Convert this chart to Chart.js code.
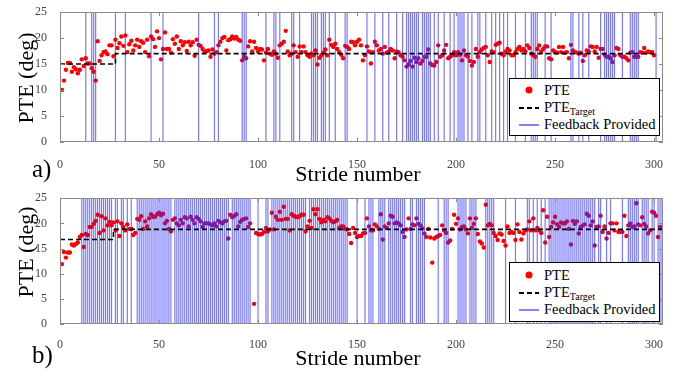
<!DOCTYPE html>
<html>
<head>
<meta charset="utf-8">
<script src="https://cdn.jsdelivr.net/npm/chart.js@4.4.0/dist/chart.umd.min.js"></script>
<style>
  body { margin: 0; background: #fff; }
  #wrap { position: relative; width: 686px; height: 372px; font-family: "Liberation Serif", "Times New Roman", serif; }
  #wrap canvas { position: absolute; left: 0; }
  .lbl { position: absolute; white-space: nowrap; color: #000; line-height: 1; }
  .ylab { font-size: 22px; transform: translate(-50%, -50%) rotate(-90deg); }
  .legend { position: absolute; background: #fff; border: 1.5px solid #000; box-sizing: border-box; font-size: 14.5px; }
  .legend .row { position: absolute; left: 0; height: 16px; line-height: 16px; width: 100%; white-space: nowrap; }
  .legend .row svg { position: absolute; left: 8px; top: 0; }
  .legend .row span { position: absolute; left: 34px; white-space: nowrap; }
  .legend sub { font-size: 10px; vertical-align: -3px; line-height: 0; }
</style>
</head>
<body>
<div id="wrap">
  <canvas id="chartA" width="686" height="186" style="top:0"></canvas>
  <canvas id="chartB" width="686" height="186" style="top:186px"></canvas>

  <div class="lbl ylab" style="left:26px; top:78px">PTE (deg)</div>
  <div class="lbl ylab" style="left:26px; top:252px">PTE (deg)</div>
  <div class="lbl" style="font-size:22px; left:358px; top:163px; transform:translateX(-50%)">Stride number</div>
  <div class="lbl" style="font-size:22px; left:358px; top:347px; transform:translateX(-50%)">Stride number</div>
  <div class="lbl" style="font-size:25px; left:32px; top:156px">a)</div>
  <div class="lbl" style="font-size:25px; left:32px; top:342px">b)</div>

  <div class="legend" style="left:509px; top:78px; width:151px; height:58px">
    <div class="row" style="top:3px"><svg width="22" height="16"><circle cx="11" cy="8" r="3.5" fill="#ff0000"/></svg><span>PTE</span></div>
    <div class="row" style="top:20px"><svg width="22" height="16"><line x1="1" y1="9" x2="21" y2="9" stroke="#000" stroke-width="2" stroke-dasharray="5,3"/></svg><span>PTE<sub>Target</sub></span></div>
    <div class="row" style="top:37px"><svg width="22" height="16"><line x1="1" y1="9" x2="21" y2="9" stroke="#5a5aff" stroke-width="1.5"/></svg><span>Feedback Provided</span></div>
  </div>
  <div class="legend" style="left:509px; top:262px; width:151px; height:60px">
    <div class="row" style="top:4px"><svg width="22" height="16"><circle cx="11" cy="8" r="3.5" fill="#ff0000"/></svg><span>PTE</span></div>
    <div class="row" style="top:21px"><svg width="22" height="16"><line x1="1" y1="9" x2="21" y2="9" stroke="#000" stroke-width="2" stroke-dasharray="5,3"/></svg><span>PTE<sub>Target</sub></span></div>
    <div class="row" style="top:38px"><svg width="22" height="16"><line x1="1" y1="9" x2="21" y2="9" stroke="#5a5aff" stroke-width="1.5"/></svg><span>Feedback Provided</span></div>
  </div>
</div>

<script>
// axis ticks
const strideTicks = [0, 50, 100, 150, 200, 250, 300];
const pteTicks = [0, 5, 10, 15, 20, 25];

// panel a) PTE per stride (stride 1..300)
const pteA = [
  10, 11.8, 13.9, 15.2, 15.2, 13.5, 14.4, 14, 13.2, 13.9,
  15.9, 14.6, 16.1, 15.1, 15.1, 14.2, 13.5, 11.8, 19.4, 15.6,
  16.7, 17.3, 17.4, 16.9, 18.6, 18.6, 16.5, 19.7, 18.1, 19,
  20.3, 18.5, 20.5, 17.3, 18.8, 19.5, 17.6, 18.6, 19.7, 18.3,
  19.4, 19.1, 17.3, 19.7, 16.5, 20.3, 19.8, 18.3, 21.3, 20,
  15.9, 17.9, 21.1, 17.9, 17.9, 17.2, 19.8, 18.9, 20.3, 17.9,
  19.4, 18.6, 19.2, 17.5, 19.3, 18.6, 19.2, 16.6, 19.7, 18.7,
  18.5, 17.9, 17.3, 17.5, 17.6, 16.4, 17.8, 17, 17.3, 18.6,
  19.3, 20, 20.2, 17.6, 19.6, 19.8, 20.3, 19.9, 20.2, 19.7, 19.5,
  15.7, 16.4, 16.1, 18.4, 19.4, 17.4, 19.3, 18.1, 17.4, 17.9,
  17.8, 15.7, 17.2, 17.9, 17, 16.8, 17.4, 17, 16.2, 18.6,
  18.9, 19.3, 21.4, 17.4, 16.7, 17.0, 18.6, 17.3, 16.4, 18.4, 17.3,
  18.4, 17.3, 16.7, 16.4, 17, 16.7, 17.6, 14.9, 16.2, 16.7,
  17.2, 17.8, 16.7, 19.7, 18.7, 18.3, 18.9, 17.9, 17.3, 16.8,
  16.1, 18.5, 18.3, 17.9, 19.3, 19.2, 18.6, 19.3, 19.7, 18.6,
  15.7, 16.7, 18.4, 17.4, 15.1, 17.3, 19.3, 18.6, 17.6, 17.9,
  17, 18.3, 17.2, 17.4, 17.9, 17.6, 16.1, 17.4, 17.3, 16.7,
  16.4, 15.7, 14.5, 14.9, 15.6, 14.5, 16.2, 15.4, 16.1, 15.1,
  15.6, 16.4, 16.4, 17.8, 15.1, 14.8, 14.7, 15.4, 18.6, 16.4,
  16.7, 17.6, 18.7, 16.1, 16.4, 16.7, 17.3, 16.7,
  17.3, 16.8, 15.7, 17.6, 16.7, 16.4, 15.6, 14.7, 15.4, 17.9,
  16.4, 17.3, 17.8, 18.1, 18.3, 16.7, 15.4, 17.4, 17.3, 18.7,
  18.9, 19.1, 17, 16.7, 17.4, 17.9, 17.6, 16.7, 16.7, 17.3,
  17.9, 18.3, 17.6, 17.9, 17.4, 18.6, 18.1, 17, 16.7, 16.4,
  17.9, 18.6, 17.4, 17.9, 18.4, 18.4, 16.1, 15.9, 17.6, 17.3,
  17.2, 18.3, 17.3, 18.3, 17.2, 17.3, 16.1, 18.7, 17.6, 17.3,
  17.2, 17, 17.2, 15.6, 16.7, 17.6, 17.4, 18.4, 18.3, 17.4,
  18.3, 16.2, 17.9, 17.9, 16.8, 16.4, 16.4, 16.1, 15.4, 16.7,
  18.1, 17.9, 16.7, 16.4, 16.4, 16.1, 15.7, 17.2, 17.3, 16.4,
  16.4, 16.4, 17.3, 17.2, 18.1, 17.2, 17.4, 17.3, 17.3, 16.7
];
// panel a) target: step positions and levels
const targetStrideA = [0, 28, 28, 300];
const targetLevelA = [15, 15, 17, 17];
// panel a) strides where feedback was given, as [first, last] runs
const feedbackRunsA = [
  [13, 13], [16, 18], [28, 28], [33, 33], [46, 46], [52, 52], [70, 70], [78, 78], [80, 80],
  [92, 94], [104, 104], [108, 109], [111, 111], [117, 118], [121, 121], [127, 130],
  [132, 134], [136, 136], [139, 139], [144, 145], [155, 155], [159, 159], [163, 163],
  [166, 166], [170, 170], [173, 173], [175, 181], [183, 187], [189, 189], [191, 191],
  [194, 194], [197, 197], [199, 199], [201, 204], [206, 206], [208, 208], [211, 212],
  [215, 215], [218, 218], [220, 220], [222, 222], [224, 224], [226, 226], [230, 230],
  [235, 235], [238, 241], [245, 245], [248, 248], [258, 259], [262, 262], [264, 264],
  [267, 267], [273, 273], [275, 280], [284, 284], [288, 292], [301, 301]
];

// panel b) PTE per stride (stride 1..305)
const pteB = [
  11.9, 14.3, 13.2, 14.2, 14.2, 15.8, 15.6, 15.9, 16.2, 17.3,
  17.7, 15.3, 17.9, 17.7, 19.3, 19.3, 19.9, 20.5, 21.7, 18.1, 21.4,
  18.6, 21, 19.6, 20.3, 19.6, 20.2, 18.6, 20.4, 17.5, 20,
  19.3, 18.6, 19.8, 18.9, 18.9, 17.7, 18.1, 20.9, 20.7, 21.4,
  18.9, 20.4, 19.4, 21, 21.8, 21.3, 21.3, 21.8, 22.1, 21.6,
  21.9, 20, 20.5, 18.9, 18.4, 20.7, 21, 20, 19.6, 20.7,
  20, 21.2, 21, 19.4, 21.3, 20.7, 20, 21.2, 20.9, 20.4,
  19.3, 20, 20, 20, 19.8, 19.6, 20, 19.4, 20.5, 20.2,
  20, 20.4, 20.5, 17, 21.7, 21.2, 21.5, 21.8,
  19.4, 20.3, 20.7, 20.9, 21, 19.3, 20, null, 4.0, 18.1,
  17.9, 17.8, 17.9, 18.3, 19.1, 18.4, 18.8, 22.1, 18.8, 21.3,
  20.7, 22.3, 20.7, 23.3, 20.9, 20.9, 18.6, 21.8, 21.5, 21.3,
  21.2, 21.4, 21.7, 21.7, 18.4, 19.4, 20.5, 19.1, 22.8, 21.8,
  22.8, 20.9, 20.2, 20.7, 20.4, 21.2, 21, 20.5, 20.2, 20.4,
  20.7, 19.1, 19.4, 19.4, 18.9, 18.8, 17.9, 16.1, 19.1, 18.1,
  17.3, 17.5, 17.5, 18, 18.1, 21, 19.4, 18.6, 18.6, 19.8,
  19.4, 18.9, 21.8, 16.8, 19.4, 19.1, 20, 21.5, 21.3, 20,
  20.2, 20, 19.6, 18.3, 17.3, 18.8, 21, 18.9, 19.8, 19.6,
  21, 19.9, 19.6, 19, 18, 17.3, 18.9, 17.2, 12.2, 17,
  17.3, 17.5, 17.7, 19.6, 18.6, 18.1, 16.2, 16.6, 18.9, 21.7,
  19.9, 21, 18.8, 19.3, 19.4, 18.8, 18, 21, 19.1, 19.9, 21,
  17.9, 16.4, 16.0, 15.2, 23.7, 19.6, 19.9, 19.6, 18.1, 17.5, 16.7, 18,
  17.8, 16.5, 15.6, 19.4, 18.1, 18.3, 18.1, 16.7, 19.8, 18.3, 16.8,
  18, 18.6, 18.8, 20.4, 18.6, 21, 18.6, 19.1, 18.6, 18.1,
  22.6, 16.2, 21.3, 17.3, 19.3, 20.2, 21.3, 19.8, 19.3, 20.2,
  20, 20, 20.4, 18.9, 15.8, 20.5, 19.9, 20.4, 18, 19.3,
  19.6, 19.8, 21.9, 21.5, 19.6, 20.4, 15.6, 19.3, 19.4, 21.5,
  18.3, 19.4, 17, 18.1, 20, 20, 18.6, 20, 18.3, 18.3,
  18.3, 21.5, 17.5, 19.6, 20, 19.3, 19.4, 24, 19.8, 19.6,
  21.2, 19.9, 19.4, 18, 18.6, 22.3, 22.1, 21.5, 17.3, 19.3,
  19.1, 18.1
];
const targetStrideB = [0, 27, 27, 304];
const targetLevelB = [16.8, 16.8, 18.8, 18.8];
const feedbackRunsB = [
  [11, 26], [28, 29], [31, 32], [34, 34], [36, 36], [39, 56], [58, 85], [87, 96],
  [100, 100], [104, 105], [107, 124], [126, 145], [150, 150], [154, 154], [156, 158],
  [161, 164], [166, 174], [177, 178], [180, 184], [191, 191], [194, 196], [201, 205],
  [207, 210], [215, 219], [225, 225], [230, 230], [236, 237], [239, 239], [241, 241],
  [243, 243], [245, 245], [247, 270], [272, 273], [276, 276], [278, 278], [284, 284],
  [287, 292], [294, 297], [299, 300], [302, 304]
];

const X_MAX = 304.5;
const Y_MAX = pteTicks[pteTicks.length - 1];
const FONT = '"Liberation Serif", "Times New Roman", serif';

// box round the plot with inward ticks, like the matlab figure
const boxTicks = {
  id: 'boxTicks',
  afterDatasetsDraw(chart) {
    const { ctx, chartArea: a, scales: { x, y } } = chart;
    ctx.save();
    ctx.strokeStyle = '#8a8a8a';
    ctx.lineWidth = 1;
    ctx.beginPath();
    ctx.rect(Math.round(a.left) + 0.5, Math.round(a.top) + 0.5, Math.round(a.right - a.left) - 1, Math.round(a.bottom - a.top) - 1);
    strideTicks.forEach(v => {
      const px = Math.round(x.getPixelForValue(v)) + 0.5;
      ctx.moveTo(px, a.bottom); ctx.lineTo(px, a.bottom - 4);
      ctx.moveTo(px, a.top); ctx.lineTo(px, a.top + 4);
    });
    pteTicks.forEach(v => {
      const py = Math.round(y.getPixelForValue(v)) + 0.5;
      ctx.moveTo(a.left, py); ctx.lineTo(a.left + 4, py);
      ctx.moveTo(a.right, py); ctx.lineTo(a.right - 4, py);
    });
    ctx.stroke();
    ctx.restore();
  }
};

function expandRuns(runs) {
  const out = [];
  runs.forEach(([a, b]) => { for (let s = a; s <= b; s++) out.push(s); });
  return out;
}

function makeChart(id, pte, targetStride, targetLevel, runs, padTop, xHeight, tickPad) {
  const points = pte.map((v, i) => ({ x: i + 1, y: v }));
  const target = targetStride.map((s, i) => ({ x: s, y: targetLevel[i] }));
  const feedback = [];
  expandRuns(runs).forEach(s => {
    feedback.push({ x: s, y: 0 }, { x: s, y: Y_MAX }, { x: s, y: null });
  });

  return new Chart(document.getElementById(id), {
    type: 'scatter',
    data: {
      datasets: [
        {
          label: 'PTE',
          data: points,
          pointRadius: 2.2,
          pointBackgroundColor: '#ff0000',
          pointBorderWidth: 0,
          order: 3
        },
        {
          label: 'Feedback Provided',
          data: feedback,
          showLine: true,
          spanGaps: false,
          borderColor: 'rgba(40, 40, 255, 0.62)',
          borderWidth: 1.2,
          pointRadius: 0,
          order: 2
        },
        {
          label: 'PTE Target',
          data: target,
          showLine: true,
          borderColor: '#000',
          borderWidth: 1.6,
          borderDash: [5, 3],
          pointRadius: 0,
          order: 1
        }
      ]
    },
    options: {
      responsive: false,
      animation: false,
      devicePixelRatio: 1,
      layout: { padding: { top: padTop, right: 23, left: 0, bottom: 0 } },
      plugins: { legend: { display: false }, tooltip: { enabled: false } },
      scales: {
        x: {
          type: 'linear',
          min: 0,
          max: X_MAX,
          grid: { display: false },
          border: { display: false },
          afterBuildTicks: s => { s.ticks = strideTicks.map(v => ({ value: v })); },
          afterFit: s => { s.height = xHeight; },
          ticks: { padding: tickPad, color: '#444', font: { family: FONT, size: 12 }, maxRotation: 0 }
        },
        y: {
          min: 0,
          max: Y_MAX,
          grid: { display: false },
          border: { display: false },
          afterBuildTicks: s => { s.ticks = pteTicks.map(v => ({ value: v })); },
          afterFit: s => { s.width = 60; },
          ticks: { padding: 5, color: '#444', font: { family: FONT, size: 12 } }
        }
      }
    },
    plugins: [boxTicks]
  });
}

makeChart('chartA', pteA, targetStrideA, targetLevelA, feedbackRunsA, 9.3, 44.3, 8);
makeChart('chartB', pteB, targetStrideB, targetLevelB, feedbackRunsB, 7.3, 48, 6);
</script>
</body>
</html>
